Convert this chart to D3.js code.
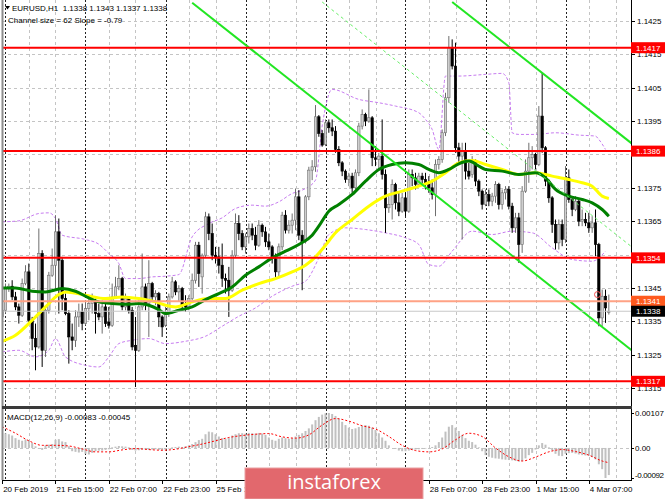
<!DOCTYPE html>
<html>
<head>
<meta charset="utf-8">
<script src="https://cdn.jsdelivr.net/npm/d3@7"></script>
<style>
  body { margin: 0; background: #fff; }
  svg { display: block; }
  text { font-family: "Liberation Sans", Arial, sans-serif; }
</style>
</head>
<body>
<div id="chart"></div>
<script>
// EURUSD H1, bar number = array position - 1 (bar 0 = 21 Feb 00:00)
var open = [
  1.13363, 1.13383, 1.13448, 1.13455, 1.13423, 1.13393, 1.13368, 1.13463, 1.13498, 1.13353,
  1.13298, 1.13273, 1.13553, 1.13263, 1.13383, 1.13488, 1.13518, 1.13618, 1.13533, 1.13418,
  1.13373, 1.13303, 1.13293, 1.13363, 1.13378, 1.13343, 1.13388, 1.13403, 1.13413, 1.13373,
  1.13363, 1.13393, 1.13348, 1.13338, 1.13423, 1.13453, 1.13478, 1.13393, 1.13418, 1.13383,
  1.13278, 1.13263, 1.13393, 1.13453, 1.13403, 1.13463, 1.13423, 1.13433, 1.13363, 1.13338,
  1.13373, 1.13423, 1.13468, 1.13438, 1.13448, 1.13398, 1.13393, 1.13418, 1.13473, 1.13578,
  1.13483, 1.13548, 1.13663, 1.13613, 1.13548, 1.13543, 1.13518, 1.13478, 1.13473, 1.13443,
  1.13548, 1.13643, 1.13613, 1.13573, 1.13603, 1.13628, 1.13608, 1.13578, 1.13638, 1.13618,
  1.13588, 1.13573, 1.13538, 1.13498, 1.13573, 1.13668, 1.13623, 1.13638, 1.13653, 1.13723,
  1.13608, 1.13588, 1.13723, 1.13803, 1.13813, 1.13963, 1.13913, 1.13880, 1.13945, 1.13930,
  1.13920, 1.13865, 1.13825, 1.13800, 1.13775, 1.13785, 1.13750, 1.13795, 1.13935, 1.13970,
  1.13950, 1.13960, 1.13840, 1.13835, 1.13845, 1.13790, 1.13690, 1.13700, 1.13760, 1.13705,
  1.13680, 1.13720, 1.13680, 1.13790, 1.13780, 1.13760, 1.13785, 1.13775, 1.13765, 1.13750,
  1.13730, 1.13820, 1.13835, 1.13915, 1.14020, 1.14170, 1.14115, 1.13870, 1.13845, 1.13860,
  1.13800, 1.13790, 1.13830, 1.13770, 1.13740, 1.13700, 1.13730, 1.13710, 1.13725, 1.13760,
  1.13700, 1.13735, 1.13745, 1.13695, 1.13630, 1.13660, 1.13580, 1.13740, 1.13800, 1.13840,
  1.13850, 1.13820, 1.13965, 1.13870, 1.13770, 1.13720, 1.13640, 1.13585, 1.13640, 1.13595,
  1.13780, 1.13715, 1.13685, 1.13710, 1.13650, 1.13655, 1.13645, 1.13630, 1.13645, 1.13580,
  1.13360, 1.13425, 1.13380
];
var high = [
  1.13393, 1.13463, 1.13463, 1.13473, 1.13438, 1.13403, 1.13478, 1.13518, 1.13523, 1.13363,
  1.13343, 1.13628, 1.13563, 1.13393, 1.13498, 1.13568, 1.13668, 1.13658, 1.13543, 1.13433,
  1.13383, 1.13343, 1.13383, 1.13403, 1.13403, 1.13413, 1.13423, 1.13433, 1.13418, 1.13403,
  1.13413, 1.13403, 1.13393, 1.13463, 1.13483, 1.13518, 1.13483, 1.13433, 1.13423, 1.13393,
  1.13363, 1.13413, 1.13553, 1.13463, 1.13533, 1.13468, 1.13443, 1.13438, 1.13368, 1.13393,
  1.13433, 1.13483, 1.13473, 1.13458, 1.13453, 1.13428, 1.13428, 1.13493, 1.13588, 1.13588,
  1.13553, 1.13678, 1.13673, 1.13643, 1.13573, 1.13573, 1.13583, 1.13493, 1.13513, 1.13563,
  1.13673, 1.13668, 1.13623, 1.13613, 1.13643, 1.13643, 1.13633, 1.13653, 1.13643, 1.13633,
  1.13613, 1.13578, 1.13553, 1.13583, 1.13678, 1.13683, 1.13653, 1.13673, 1.13748, 1.13743,
  1.13623, 1.13728, 1.13813, 1.13833, 1.13998, 1.13968, 1.13923, 1.13955, 1.13955, 1.13955,
  1.13935, 1.13875, 1.13830, 1.13805, 1.13795, 1.13795, 1.13805, 1.13945, 1.13985, 1.13975,
  1.14045, 1.13965, 1.13875, 1.13855, 1.13955, 1.13805, 1.13725, 1.13775, 1.13765, 1.13735,
  1.13735, 1.13735, 1.13805, 1.13805, 1.13795, 1.13795, 1.13795, 1.13795, 1.13785, 1.13775,
  1.13835, 1.13845, 1.13925, 1.14035, 1.14205, 1.14195, 1.14185, 1.13885, 1.13885, 1.13885,
  1.13825, 1.13845, 1.13835, 1.13775, 1.13745, 1.13745, 1.13745, 1.13735, 1.13770, 1.13765,
  1.13745, 1.13755, 1.13755, 1.13705, 1.13675, 1.13675, 1.13755, 1.13835, 1.13885, 1.13875,
  1.13855, 1.13995, 1.14095, 1.13875, 1.13775, 1.13725, 1.13655, 1.13655, 1.13655, 1.13815,
  1.13805, 1.13725, 1.13725, 1.13715, 1.13685, 1.13675, 1.13675, 1.13665, 1.13685, 1.13585,
  1.13445, 1.13445, 1.13430
];
var low = [
  1.13348, 1.13373, 1.13438, 1.13413, 1.13383, 1.13343, 1.13363, 1.13458, 1.13343, 1.13263,
  1.13203, 1.13268, 1.13213, 1.13243, 1.13373, 1.13483, 1.13443, 1.13373, 1.13383, 1.13368,
  1.13223, 1.13263, 1.13273, 1.13333, 1.13323, 1.13338, 1.13353, 1.13373, 1.13313, 1.13353,
  1.13313, 1.13333, 1.13328, 1.13333, 1.13418, 1.13443, 1.13383, 1.13383, 1.13373, 1.13263,
  1.13153, 1.13258, 1.13383, 1.13383, 1.13303, 1.13413, 1.13398, 1.13333, 1.13303, 1.13333,
  1.13363, 1.13418, 1.13428, 1.13408, 1.13388, 1.13378, 1.13383, 1.13413, 1.13463, 1.13453,
  1.13433, 1.13543, 1.13593, 1.13533, 1.13523, 1.13493, 1.13453, 1.13433, 1.13363, 1.13438,
  1.13543, 1.13593, 1.13563, 1.13553, 1.13583, 1.13593, 1.13563, 1.13573, 1.13603, 1.13573,
  1.13563, 1.13523, 1.13483, 1.13483, 1.13563, 1.13613, 1.13613, 1.13613, 1.13623, 1.13593,
  1.13443, 1.13583, 1.13713, 1.13773, 1.13798, 1.13903, 1.13873, 1.13875, 1.13915, 1.13905,
  1.13855, 1.13815, 1.13785, 1.13765, 1.13755, 1.13735, 1.13745, 1.13785, 1.13925, 1.13935,
  1.13945, 1.13815, 1.13815, 1.13805, 1.13775, 1.13615, 1.13675, 1.13655, 1.13685, 1.13665,
  1.13675, 1.13665, 1.13675, 1.13755, 1.13745, 1.13755, 1.13760, 1.13745, 1.13735, 1.13715,
  1.13665, 1.13805, 1.13825, 1.13905, 1.14005, 1.14105, 1.13855, 1.13825, 1.13595, 1.13775,
  1.13775, 1.13780, 1.13755, 1.13725, 1.13685, 1.13695, 1.13695, 1.13695, 1.13705, 1.13685,
  1.13685, 1.13715, 1.13685, 1.13615, 1.13615, 1.13525, 1.13555, 1.13735, 1.13765, 1.13805,
  1.13805, 1.13815, 1.13855, 1.13755, 1.13705, 1.13615, 1.13565, 1.13565, 1.13575, 1.13585,
  1.13705, 1.13665, 1.13680, 1.13635, 1.13635, 1.13635, 1.13615, 1.13615, 1.13545, 1.13335,
  1.13335, 1.13345, 1.13370
];
var close = [
  1.13383, 1.13448, 1.13455, 1.13423, 1.13393, 1.13368, 1.13463, 1.13498, 1.13353, 1.13298,
  1.13273, 1.13553, 1.13263, 1.13383, 1.13488, 1.13518, 1.13618, 1.13533, 1.13418, 1.13373,
  1.13303, 1.13293, 1.13363, 1.13378, 1.13343, 1.13388, 1.13403, 1.13413, 1.13373, 1.13363,
  1.13393, 1.13343, 1.13338, 1.13423, 1.13453, 1.13478, 1.13393, 1.13418, 1.13383, 1.13273,
  1.13263, 1.13393, 1.13453, 1.13403, 1.13463, 1.13423, 1.13433, 1.13363, 1.13333, 1.13373,
  1.13423, 1.13468, 1.13438, 1.13448, 1.13398, 1.13393, 1.13418, 1.13473, 1.13578, 1.13493,
  1.13548, 1.13663, 1.13613, 1.13548, 1.13543, 1.13518, 1.13478, 1.13473, 1.13443, 1.13548,
  1.13643, 1.13613, 1.13573, 1.13603, 1.13628, 1.13608, 1.13578, 1.13638, 1.13618, 1.13588,
  1.13573, 1.13538, 1.13498, 1.13573, 1.13668, 1.13623, 1.13638, 1.13653, 1.13723, 1.13608,
  1.13588, 1.13723, 1.13803, 1.13813, 1.13963, 1.13913, 1.13878, 1.13945, 1.13930, 1.13920,
  1.13865, 1.13825, 1.13800, 1.13775, 1.13785, 1.13750, 1.13795, 1.13935, 1.13970, 1.13950,
  1.13960, 1.13840, 1.13835, 1.13845, 1.13790, 1.13690, 1.13700, 1.13760, 1.13705, 1.13680,
  1.13720, 1.13680, 1.13790, 1.13780, 1.13760, 1.13785, 1.13775, 1.13765, 1.13750, 1.13730,
  1.13820, 1.13835, 1.13915, 1.14020, 1.14170, 1.14115, 1.13870, 1.13845, 1.13860, 1.13800,
  1.13785, 1.13830, 1.13770, 1.13740, 1.13700, 1.13730, 1.13710, 1.13725, 1.13760, 1.13700,
  1.13735, 1.13745, 1.13695, 1.13630, 1.13660, 1.13580, 1.13740, 1.13800, 1.13840, 1.13850,
  1.13820, 1.13965, 1.13870, 1.13770, 1.13720, 1.13640, 1.13585, 1.13640, 1.13595, 1.13780,
  1.13715, 1.13685, 1.13710, 1.13650, 1.13655, 1.13645, 1.13630, 1.13645, 1.13580, 1.13360,
  1.13425, 1.13390, 1.13380
];

// moving averages, read at sample bars
var greenIdx = [-1, 3, 8, 12, 17, 21, 25, 28, 32, 36, 40, 43, 46, 48, 52, 56, 60, 64, 68, 72,
  76, 80, 84, 88, 92, 94, 97, 100, 104, 108, 112, 116, 120, 124, 127, 130, 133, 136, 139, 142,
  144, 149, 154, 159, 162, 165, 169, 173, 176, 179, 181];
var greenVal = [1.13450, 1.13450, 1.13440, 1.13438, 1.13448, 1.13440, 1.13420, 1.13408, 1.13403, 1.13401,
  1.13403, 1.13398, 1.13385, 1.13373, 1.13383, 1.13393, 1.13415, 1.13433, 1.13453, 1.13488,
  1.13513, 1.13540, 1.13560, 1.13580, 1.13608, 1.13635, 1.13680, 1.13700, 1.13730, 1.13770,
  1.13805, 1.13820, 1.13825, 1.13820, 1.13805, 1.13795, 1.13805, 1.13822, 1.13830, 1.13815,
  1.13805, 1.13800, 1.13790, 1.13795, 1.13780, 1.13745, 1.13725, 1.13715, 1.13705, 1.13685, 1.13665];

var yellowIdx = [-1, 3, 8, 12, 16, 18, 24, 30, 35, 40, 45, 48, 51, 56, 61, 66, 71, 76, 81, 86,
  90, 93, 96, 99, 104, 109, 114, 119, 124, 128, 132, 136, 140, 144, 149, 154, 159, 164, 169, 173,
  176, 179, 181];
var yellowVal = [1.13290, 1.13308, 1.13353, 1.13393, 1.13430, 1.13438, 1.13428, 1.13418, 1.13423, 1.13418,
  1.13408, 1.13398, 1.13393, 1.13408, 1.13418, 1.13418, 1.13443, 1.13463, 1.13478, 1.13498,
  1.13518, 1.13543, 1.13578, 1.13615, 1.13655, 1.13695, 1.13725, 1.13740, 1.13755, 1.13770,
  1.13795, 1.13825, 1.13832, 1.13820, 1.13805, 1.13790, 1.13795, 1.13785, 1.13775, 1.13765,
  1.13755, 1.13725, 1.13718];

// dashed envelope
var upperIdx = [-1, 4, 10, 13, 15, 17, 24, 28, 31, 34, 36, 40, 44, 48, 52, 56, 61, 65, 69, 74,
  78, 82, 86, 89, 93, 95, 98, 106, 112, 117, 124, 126, 128, 130, 132, 136, 144, 149, 151, 152,
  154, 159, 165, 172, 177, 178, 180];
var upperVal = [1.13648, 1.13651, 1.13673, 1.13675, 1.13658, 1.13608, 1.13595, 1.13581, 1.13553, 1.13523,
  1.13478, 1.13478, 1.13483, 1.13485, 1.13490, 1.13603, 1.13643, 1.13660, 1.13688, 1.13698,
  1.13695, 1.13708, 1.13733, 1.13743, 1.13773, 1.13935, 1.14045, 1.14015, 1.14005, 1.13995,
  1.13975, 1.13955, 1.13925, 1.13865, 1.14085, 1.14085, 1.14090, 1.14093, 1.14065, 1.13915,
  1.13910, 1.13910, 1.13915, 1.13908, 1.13905, 1.13895, 1.13865];
var lowerIdx = [-1, 4, 9, 13, 15, 18, 24, 28, 31, 34, 38, 43, 48, 54, 60, 65, 70, 75, 80, 86,
  90, 94, 97, 102, 108, 114, 120, 124, 127, 130, 134, 140, 146, 152, 158, 164, 170, 176, 180];
var lowerVal = [1.13258, 1.13263, 1.13243, 1.13263, 1.13298, 1.13243, 1.13218, 1.13213, 1.13243, 1.13283,
  1.13293, 1.13298, 1.13283, 1.13290, 1.13305, 1.13335, 1.13365, 1.13390, 1.13425, 1.13455,
  1.13470, 1.13540, 1.13610, 1.13630, 1.13625, 1.13615, 1.13600, 1.13580, 1.13520, 1.13515,
  1.13560, 1.13620, 1.13610, 1.13620, 1.13615, 1.13570, 1.13535, 1.13530, 1.13560];

// regression channel: [start bar, start price, end bar, end price]
var channelLower = [56, 1.14305, 188, 1.13262];
var channelMiddle = [95, 1.14307, 188, 1.13572];
var channelUpper = [134, 1.14307, 188, 1.13882];

var levels = [1.1417, 1.1386, 1.1354, 1.1317];
var orangeLevel = 1.1341;
var lastPrice = 1.1338;
var alertMark = [177.6, 1.13430];

var priceTicks = [1.1315, 1.1325, 1.1335, 1.1345, 1.1355, 1.1365, 1.1375, 1.1385, 1.1395, 1.1405, 1.1415, 1.1425];
var timeLabelIdx = [-1, 15, 31, 47, 63, 79, 95, 111, 127, 143, 159, 175];
var timeLabels = ["20 Feb 2019", "21 Feb 15:00", "22 Feb 07:00", "22 Feb 23:00", "25 Feb 15:00", "26 Feb 07:00",
  "26 Feb 23:00", "27 Feb 15:00", "28 Feb 07:00", "28 Feb 23:00", "1 Mar 15:00", "4 Mar 07:00"];

// MACD histogram, one per bar
var macdHist = [
  0.00045, 0.00045, 0.00042, 0.00038, 0.00030, 0.00025, 0.00022, 0.00026, 0.00024, 0.00015,
  0.00005, -0.00003, -0.00006, 0.00008, 0.00010, 0.00012, 0.00025, 0.00027, 0.00020, 0.00018,
  0.00005, -0.00010, -0.00012, -0.00014, -0.00012, -0.00018, -0.00020, -0.00015, -0.00010, -0.00008,
  -0.00008, -0.00006, -0.00004, 0.00002, 0.00004, 0.00006, 0.00005, 0.00004, 0.00002, -0.00006,
  -0.00008, -0.00007, -0.00005, -0.00004, -0.00006, -0.00005, -0.00004, -0.00006, -0.00008, -0.00005,
  -0.00002, 0.00002, 0.00003, 0.00004, 0.00003, 0.00005, 0.00008, 0.00012, 0.00018, 0.00024,
  0.00028, 0.00042, 0.00050, 0.00048, 0.00042, 0.00035, 0.00030, 0.00028, 0.00030, 0.00038,
  0.00042, 0.00045, 0.00045, 0.00044, 0.00046, 0.00045, 0.00044, 0.00046, 0.00044, 0.00040,
  0.00032, 0.00025, 0.00022, 0.00028, 0.00032, 0.00030, 0.00028, 0.00030, 0.00035, 0.00040,
  0.00045, 0.00052, 0.00060, 0.00072, 0.00085, 0.00095, 0.00102, 0.00106, 0.00107, 0.00104,
  0.00098, 0.00090, 0.00080, 0.00070, 0.00062, 0.00058, 0.00060, 0.00064, 0.00068, 0.00070,
  0.00068, 0.00062, 0.00055, 0.00045, 0.00032, 0.00022, 0.00008, 0.00000, -0.00003, -0.00008,
  -0.00010, -0.00010, -0.00008, -0.00006, -0.00005, -0.00004, -0.00003, -0.00002, -0.00001, 0.00003,
  0.00008, 0.00018, 0.00032, 0.00050, 0.00065, 0.00070, 0.00062, 0.00052, 0.00040, 0.00030,
  0.00022, 0.00018, 0.00010, 0.00002, -0.00010, -0.00022, -0.00027, -0.00030, -0.00032, -0.00033,
  -0.00035, -0.00036, -0.00037, -0.00038, -0.00040, -0.00042, -0.00040, -0.00032, -0.00022, -0.00015,
  -0.00005, 0.00008, 0.00015, 0.00010, 0.00002, -0.00008, -0.00018, -0.00024, -0.00025, -0.00018,
  -0.00016, -0.00015, -0.00017, -0.00020, -0.00022, -0.00023, -0.00024, -0.00028, -0.00035, -0.00050,
  -0.00065, -0.00092, -0.00083
];
var signalIdx = [-1, 3, 7, 11, 15, 19, 23, 27, 31, 35, 39, 43, 47, 51, 55, 59, 63, 67, 71, 75,
  79, 83, 87, 91, 95, 99, 103, 107, 111, 115, 119, 123, 127, 131, 135, 139, 143, 147, 151, 155,
  159, 163, 167, 171, 175, 179, 181];
var signalVal = [0.00065, 0.00045, 0.00022, 0.00008, 0.00008, 0.00006, -0.00003, -0.00012, -0.00012, -0.00006,
  -0.00002, -0.00005, -0.00007, -0.00004, 0.00004, 0.00012, 0.00022, 0.00032, 0.00038, 0.00042,
  0.00044, 0.00034, 0.00030, 0.00040, 0.00070, 0.00090, 0.00082, 0.00068, 0.00058, 0.00035,
  0.00008, -0.00008, -0.00012, -0.00003, 0.00025, 0.00045, 0.00035, 0.00000, -0.00027, -0.00040,
  -0.00028, -0.00012, -0.00005, -0.00011, -0.00022, -0.00040, -0.00045];
var macdTicks = [0.00107, 0, -0.00092];
var macdTickLabels = ["0.00107", "0.00", "-0.00092"];

var width = 665, height = 499;
var plotL = 2, plotR = 631;
var mainBottom = 406, macdTop = 409, macdBottom = 480;
var wmX = 245, wmY = 468, wmW = 178, wmH = 31;

var svg = d3.select("#chart").append("svg")
    .attr("width", width)
    .attr("height", height);

var x = d3.scaleLinear().domain([-1.65, 187.65]).range([0, plotR]);
var y = d3.scaleLinear().domain([1.1317, 1.1417]).range([381.3, 47.7]);
var ym = d3.scaleLinear().domain([-0.00092, 0.00107]).range([478, 413]);

svg.append("rect").attr("width", width).attr("height", height).attr("fill", "#fff");

var defs = svg.append("defs");
defs.append("clipPath").attr("id", "clipMain").append("rect")
    .attr("x", plotL).attr("y", 0).attr("width", plotR - plotL).attr("height", mainBottom);
defs.append("clipPath").attr("id", "clipMacd").append("rect")
    .attr("x", plotL).attr("y", macdTop).attr("width", plotR - plotL).attr("height", macdBottom - macdTop);
defs.append("clipPath").attr("id", "clipTime").append("rect")
    .attr("x", 0).attr("y", macdBottom).attr("width", wmX).attr("height", height - macdBottom);

var main = svg.append("g").attr("clip-path", "url(#clipMain)");
var macd = svg.append("g").attr("clip-path", "url(#clipMacd)");

// grid
var gridIdx = d3.range(-1, 188, 8).filter(function (d) { return (d + 1) % 24 !== 0; });
var daySep = d3.range(0, 188, 24);

[main, macd].forEach(function (g, k) {
    var top = k === 0 ? 0 : macdTop, bottom = k === 0 ? mainBottom : macdBottom;
    g.selectAll(".vgrid").data(gridIdx).enter().append("line")
        .attr("x1", function (d) { return Math.round(x(d)) + 0.5; })
        .attr("x2", function (d) { return Math.round(x(d)) + 0.5; })
        .attr("y1", top).attr("y2", bottom)
        .attr("stroke", "#c4c4c4").attr("stroke-dasharray", "3,3");
    g.selectAll(".dsep").data(daySep).enter().append("line")
        .attr("x1", function (d) { return Math.round(x(d)) + 0.5; })
        .attr("x2", function (d) { return Math.round(x(d)) + 0.5; })
        .attr("y1", top).attr("y2", bottom)
        .attr("stroke", "#222").attr("stroke-dasharray", "2,2");
});

main.selectAll(".hgrid").data(priceTicks).enter().append("line")
    .attr("x1", plotL).attr("x2", plotR)
    .attr("y1", function (d) { return Math.round(y(d)) + 0.5; })
    .attr("y2", function (d) { return Math.round(y(d)) + 0.5; })
    .attr("stroke", "#c4c4c4").attr("stroke-dasharray", "3,3");

macd.append("line")
    .attr("x1", plotL).attr("x2", plotR)
    .attr("y1", Math.round(ym(0)) + 0.5).attr("y2", Math.round(ym(0)) + 0.5)
    .attr("stroke", "#c4c4c4").attr("stroke-dasharray", "3,3");

// envelope
function pts(idx, val) {
    return idx.map(function (d, i) { return [d, val[i]]; });
}
var line = d3.line()
    .x(function (d) { return x(d[0]); })
    .y(function (d) { return y(d[1]); })
    .curve(d3.curveMonotoneX);

[[upperIdx, upperVal], [lowerIdx, lowerVal]].forEach(function (b) {
    main.append("path")
        .attr("d", line(pts(b[0], b[1])))
        .attr("fill", "none")
        .attr("stroke", "#c77cf0")
        .attr("stroke-width", 1)
        .attr("stroke-dasharray", "3,2");
});

// candles
var bars = open.map(function (o, i) {
    return { i: i - 1, o: o, h: high[i], l: low[i], c: close[i] };
});
var candle = main.selectAll(".candle").data(bars).enter().append("g");
candle.append("line")
    .attr("x1", function (d) { return x(d.i); })
    .attr("x2", function (d) { return x(d.i); })
    .attr("y1", function (d) { return y(d.h); })
    .attr("y2", function (d) { return y(d.l); })
    .attr("stroke", function (d) { return d.c >= d.o ? "#6e6e6e" : "#000"; })
    .attr("stroke-width", 1);
candle.append("rect")
    .attr("x", function (d) { return x(d.i) - 1.2; })
    .attr("width", 2.4)
    .attr("y", function (d) { return y(Math.max(d.o, d.c)); })
    .attr("height", function (d) { return Math.max(1, Math.abs(y(d.o) - y(d.c))); })
    .attr("fill", function (d) { return d.c >= d.o ? "#cfcfcf" : "#000"; })
    .attr("stroke", function (d) { return d.c >= d.o ? "#6e6e6e" : "#000"; })
    .attr("stroke-width", 0.6);

// moving averages
main.append("path")
    .attr("d", line(pts(yellowIdx, yellowVal)))
    .attr("fill", "none").attr("stroke", "#ffff00").attr("stroke-width", 3);
main.append("path")
    .attr("d", line(pts(greenIdx, greenVal)))
    .attr("fill", "none").attr("stroke", "#008000").attr("stroke-width", 3);

// channel
function seg(c) { return [[c[0], c[1]], [c[2], c[3]]]; }
var straight = d3.line()
    .x(function (d) { return x(d[0]); })
    .y(function (d) { return y(d[1]); });
main.append("path").attr("d", straight(seg(channelMiddle)))
    .attr("stroke", "#66ee66").attr("stroke-width", 1).attr("stroke-dasharray", "3,3").attr("fill", "none");
[channelLower, channelUpper].forEach(function (c) {
    main.append("path").attr("d", straight(seg(c)))
        .attr("stroke", "#22e622").attr("stroke-width", 2).attr("fill", "none");
});

// horizontal lines
main.append("line")
    .attr("x1", plotL).attr("x2", plotR)
    .attr("y1", y(lastPrice)).attr("y2", y(lastPrice))
    .attr("stroke", "#c8c8c8").attr("stroke-width", 1);
main.append("line")
    .attr("x1", plotL).attr("x2", plotR)
    .attr("y1", y(orangeLevel)).attr("y2", y(orangeLevel))
    .attr("stroke", "#ffa285").attr("stroke-width", 2);
main.selectAll(".level").data(levels).enter().append("line")
    .attr("x1", plotL).attr("x2", plotR)
    .attr("y1", function (d) { return y(d); })
    .attr("y2", function (d) { return y(d); })
    .attr("stroke", "#ff0000").attr("stroke-width", 2);

main.append("circle")
    .attr("cx", x(alertMark[0])).attr("cy", y(alertMark[1])).attr("r", 3)
    .attr("fill", "none").attr("stroke", "#f05050").attr("stroke-width", 1);

// MACD histogram + signal
macd.selectAll(".hist").data(macdHist).enter().append("rect")
    .attr("x", function (d, i) { return x(i - 1) - 1; })
    .attr("width", 2)
    .attr("y", function (d) { return Math.min(ym(d), ym(0)); })
    .attr("height", function (d) { return Math.abs(ym(d) - ym(0)); })
    .attr("fill", "#c0c0c0");
macd.append("path")
    .attr("d", d3.line()
        .x(function (d) { return x(d[0]); })
        .y(function (d) { return ym(d[1]); })
        .curve(d3.curveMonotoneX)(pts(signalIdx, signalVal)))
    .attr("fill", "none").attr("stroke", "#ff0000").attr("stroke-width", 1).attr("stroke-dasharray", "2,2");

// frames
svg.append("line").attr("x1", 2.5).attr("x2", 2.5).attr("y1", 0).attr("y2", macdBottom)
    .attr("stroke", "#8c8c8c").attr("stroke-width", 2);
svg.append("line").attr("x1", plotR + 0.5).attr("x2", plotR + 0.5).attr("y1", 0).attr("y2", macdBottom + 1)
    .attr("stroke", "#000");
svg.append("rect").attr("x", plotL).attr("y", mainBottom).attr("width", plotR - plotL + 1).attr("height", 3)
    .attr("fill", "#3a3a3a");
svg.append("line").attr("x1", plotL).attr("x2", plotR + 1).attr("y1", macdBottom + 0.5).attr("y2", macdBottom + 0.5)
    .attr("stroke", "#000");

// right price axis (tick labels under a level label are hidden, as on the terminal)
var labelled = levels.concat([orangeLevel, lastPrice]);
var shownTicks = priceTicks.filter(function (t) {
    return labelled.every(function (v) { return Math.abs(y(t) - y(v)) > 5; });
});
var axisG = svg.append("g").attr("font-size", "8px").attr("fill", "#000");
axisG.selectAll(".ptick").data(priceTicks).enter().append("line")
    .attr("x1", plotR).attr("x2", plotR + 4)
    .attr("y1", function (d) { return Math.round(y(d)) + 0.5; })
    .attr("y2", function (d) { return Math.round(y(d)) + 0.5; })
    .attr("stroke", "#000");
axisG.selectAll(".plab").data(shownTicks).enter().append("text")
    .attr("x", plotR + 6)
    .attr("y", function (d) { return y(d) + 3; })
    .text(function (d) { return d.toFixed(4); });

function priceLabel(v, bg) {
    var g = svg.append("g");
    g.append("rect").attr("x", plotR).attr("y", y(v) - 5.5).attr("width", width - plotR).attr("height", 11)
        .attr("fill", bg);
    g.append("text").attr("x", plotR + 5).attr("y", y(v) + 3).attr("font-size", "8px")
        .attr("fill", "#fff").text(v.toFixed(4));
}
levels.forEach(function (v) { priceLabel(v, "#ff0000"); });
priceLabel(orangeLevel, "#ff5a1e");
priceLabel(lastPrice, "#000");

// MACD axis
svg.selectAll(".mlab").data(macdTicks).enter().append("text")
    .attr("x", plotR + 4)
    .attr("y", function (d) { return Math.min(ym(d) + 3, 478); })
    .attr("font-size", "8px")
    .attr("textLength", function (d, i) { return i === 2 ? 29 : null; })
    .text(function (d, i) { return macdTickLabels[i]; });
svg.selectAll(".mtick").data(macdTicks).enter().append("line")
    .attr("x1", plotR).attr("x2", plotR + 3)
    .attr("y1", function (d) { return Math.round(ym(d)) + 0.5; })
    .attr("y2", function (d) { return Math.round(ym(d)) + 0.5; })
    .attr("stroke", "#000");

// time axis (labels that fall behind the watermark are not drawn)
svg.selectAll(".ttick").data(timeLabelIdx).enter().append("line")
    .attr("x1", function (d) { return Math.round(x(d)) + 0.5; })
    .attr("x2", function (d) { return Math.round(x(d)) + 0.5; })
    .attr("y1", macdBottom).attr("y2", macdBottom + 4)
    .attr("stroke", "#000");
var timeG = svg.append("g").attr("clip-path", "url(#clipTime)");
var timeG2 = svg.append("g");
timeLabelIdx.forEach(function (d, i) {
    var tx = x(d) + 1;
    if (tx >= wmX && tx < wmX + wmW) return;
    var g = (tx < wmX && tx + 48 > wmX) ? timeG : timeG2;
    g.append("text")
        .attr("x", tx)
        .attr("y", 492)
        .attr("font-size", "8px")
        .text(timeLabels[i]);
});

// header texts
svg.append("path").attr("d", "M5,6 L10,6 L7.5,9.5 Z").attr("fill", "#000");
svg.append("text").attr("x", 12).attr("y", 11).attr("font-size", "8px")
    .style("white-space", "pre")
    .text("EURUSD,H1  1.1338 1.1343 1.1337 1.1338");
svg.append("text").attr("x", 8).attr("y", 23).attr("font-size", "8px")
    .text("Channel size = 62 Slope = -0.79");
svg.append("text").attr("x", 7).attr("y", 420).attr("font-size", "8px")
    .text("MACD(12,26,9) -0.00083 -0.00045");

// watermark
svg.append("rect").attr("x", wmX).attr("y", wmY).attr("width", wmW).attr("height", wmH)
    .attr("fill", "#e2686d").attr("stroke", "#eaa0a2").attr("stroke-width", 1);
svg.append("text").attr("x", 334).attr("y", 489).attr("text-anchor", "middle")
    .attr("font-size", "20px").attr("fill", "#fff")
    .style("font-family", "'Open Sans', 'Liberation Sans', sans-serif")
    .text("instaforex");
</script>
</body>
</html>
